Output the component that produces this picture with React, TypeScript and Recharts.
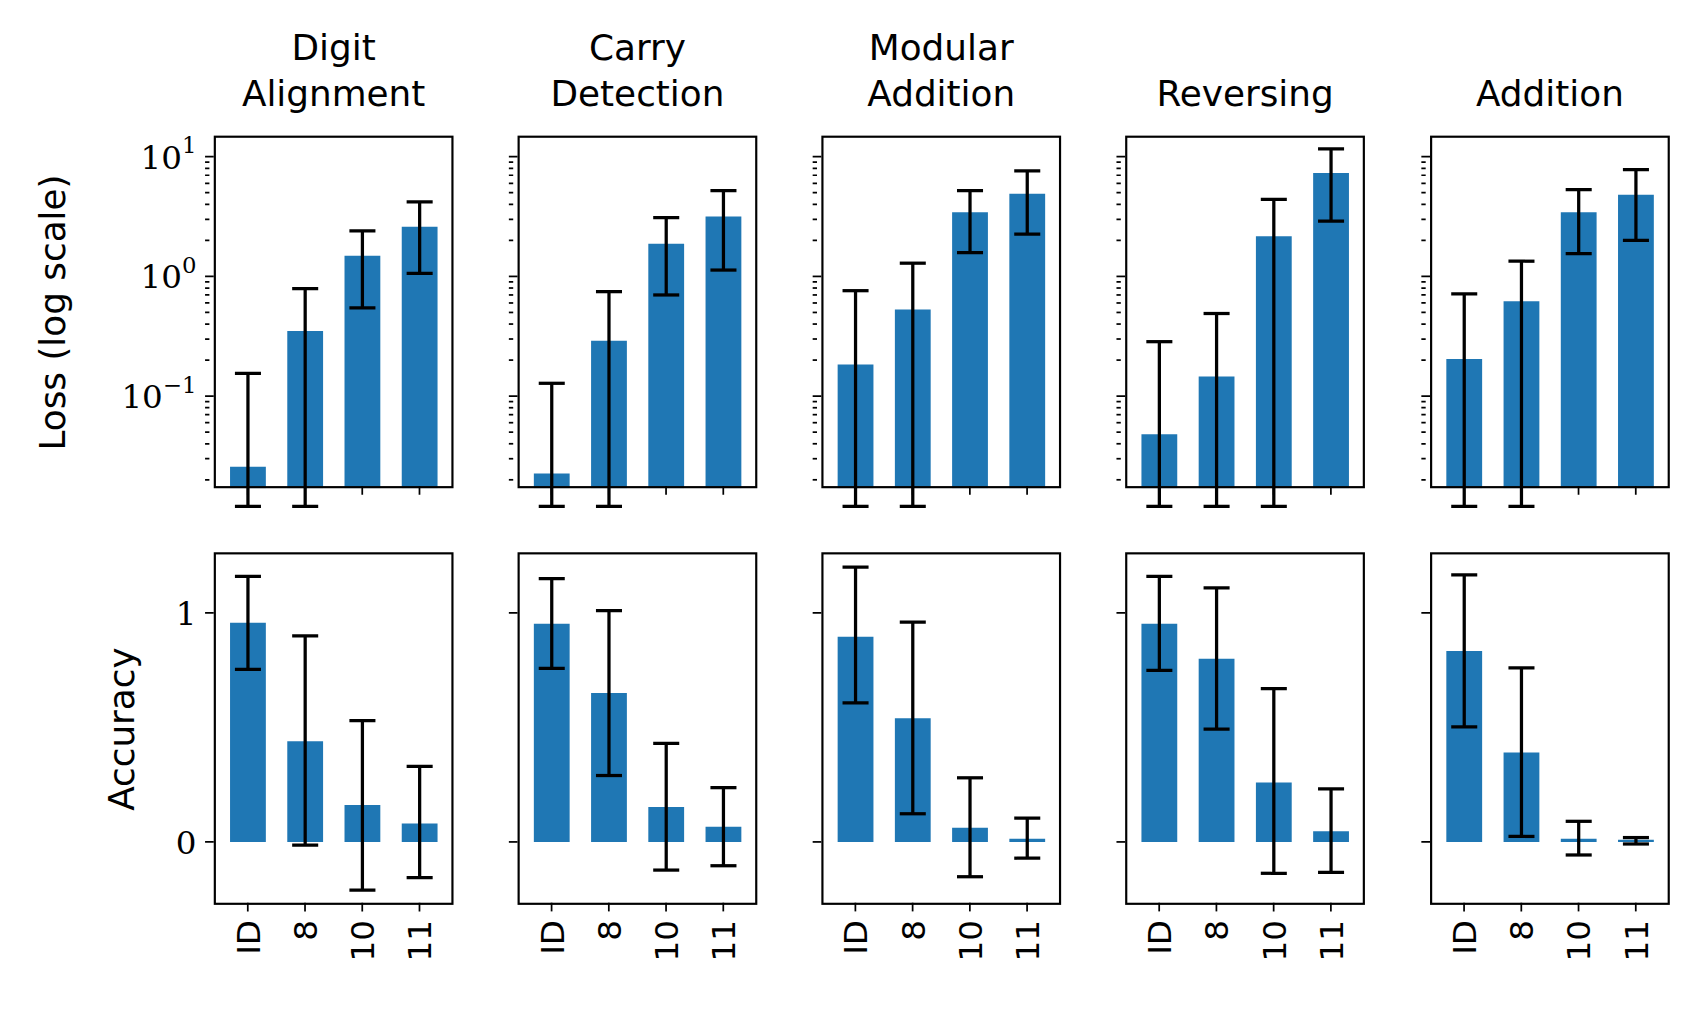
import React from 'react'
import { BarChart, Bar, XAxis, YAxis, ErrorBar } from 'recharts'

const categories = ['ID', '8', '10', '11']
const titles = [['Digit', 'Alignment'], ['Carry', 'Detection'], ['Modular', 'Addition'], ['Reversing'], ['Addition']]

// loss (log scale): value, lower, upper
const lossValues = [
  [0.0257, 0.35, 1.49, 2.6],
  [0.0226, 0.29, 1.87, 3.16],
  [0.184, 0.53, 3.43, 4.9],
  [0.048, 0.146, 2.17, 7.3],
  [0.204, 0.62, 3.43, 4.8],
]
const lossLow = [
  [0.012, 0.012, 0.545, 1.06],
  [0.012, 0.012, 0.7, 1.13],
  [0.012, 0.012, 1.58, 2.26],
  [0.012, 0.012, 0.012, 2.9],
  [0.012, 0.012, 1.55, 2.0],
]
const lossHigh = [
  [0.155, 0.79, 2.4, 4.2],
  [0.128, 0.746, 3.1, 5.2],
  [0.76, 1.29, 5.2, 7.6],
  [0.285, 0.49, 4.4, 11.6],
  [0.715, 1.34, 5.3, 7.8],
]
const accValues = [
  [0.957, 0.44, 0.161, 0.08],
  [0.953, 0.65, 0.152, 0.066],
  [0.896, 0.54, 0.062, 0.014],
  [0.953, 0.8, 0.26, 0.047],
  [0.834, 0.39, 0.014, 0.009],
]
const accLow = [
  [0.754, -0.014, -0.21, -0.156],
  [0.758, 0.29, -0.123, -0.104],
  [0.607, 0.123, -0.152, -0.071],
  [0.749, 0.493, -0.137, -0.133],
  [0.502, 0.024, -0.057, -0.009],
]
const accHigh = [
  [1.16, 0.9, 0.53, 0.33],
  [1.15, 1.01, 0.43, 0.237],
  [1.2, 0.96, 0.28, 0.104],
  [1.16, 1.11, 0.67, 0.232],
  [1.166, 0.76, 0.09, 0.019],
]
const logMajor = [0.1, 1, 10]
const logTicks = [
  0.02, 0.03, 0.04, 0.05, 0.06, 0.07, 0.08, 0.09, 0.1,
  0.2, 0.3, 0.4, 0.5, 0.6, 0.7, 0.8, 0.9, 1,
  2, 3, 4, 5, 6, 7, 8, 9, 10,
]
const accTicks = [0, 1]

const SCALE = 1.085
const panelLefts = [197, 477, 757, 1037, 1318]
const PW = 221
const PH = 325
const TOP1 = 125
const TOP2 = 509
const BLUE = '#1f77b4'
const SERIF = 'DejaVu Serif, serif'
const SANS = 'DejaVu Sans, sans-serif'

function build(vals: number[], lo: number[], hi: number[]) {
  return categories.map((c, i) => ({ name: c, v: vals[i], err: [vals[i] - lo[i], hi[i] - vals[i]] }))
}

const LogTick = (showLabel: boolean) => (p: any) => {
  const v = p.payload.value
  const major = logMajor.some((m) => Math.abs(m - v) < 1e-9)
  const len = major ? 8 : 4
  const exp = Math.round(Math.log10(v))
  return (
    <g>
      <line x1={p.x} x2={p.x + len} y1={p.y} y2={p.y} stroke="#000" strokeWidth={1.6} />
      {showLabel && major && (
        <text x={p.x - 8} y={p.y + 11} textAnchor="end" fontFamily={SERIF} fontSize={30} fill="#000">
          10<tspan dy={-14} fontSize={21}>{exp === 1 ? '1' : exp === 0 ? '0' : '−1'}</tspan>
        </text>
      )}
    </g>
  )
}

const AccTick = (showLabel: boolean) => (p: any) => (
  <g>
    <line x1={p.x} x2={p.x + 8} y1={p.y} y2={p.y} stroke="#000" strokeWidth={1.6} />
    {showLabel && (
      <text x={p.x - 8} y={p.y + 11} textAnchor="end" fontFamily={SERIF} fontSize={30} fill="#000">
        {p.payload.value}
      </text>
    )}
  </g>
)

const XTick = (showLabel: boolean) => (p: any) => (
  <g>
    <line x1={p.x} x2={p.x} y1={p.y - 10} y2={p.y - 2} stroke="#000" strokeWidth={1.6} />
    {showLabel && (
      <text
        transform={`translate(${p.x + 11},${p.y + 6}) rotate(-90)`}
        textAnchor="end"
        fontFamily={SANS}
        fontSize={30}
        fill="#000"
      >
        {p.payload.value}
      </text>
    )}
  </g>
)

function Panel(props: { col: number; row: number }) {
  const { col, row } = props
  const isLoss = row === 0
  const data = isLoss
    ? build(lossValues[col], lossLow[col], lossHigh[col])
    : build(accValues[col], accLow[col], accHigh[col])
  const left = panelLefts[col]
  const top = isLoss ? TOP1 : TOP2
  return (
    <div style={{ position: 'absolute', left: left - 110, top: top - 10 }}>
      <BarChart
        width={110 + PW + 10}
        height={10 + PH + 120}
        data={data}
        margin={{ top: 10, right: 10, left: 0, bottom: 0 }}
        barCategoryGap="19%"
      >
        <XAxis
          dataKey="name"
          height={120}
          axisLine={false}
          tickLine={false}
          interval={0}
          padding={{ left: 5, right: 5 }}
          tick={XTick(!isLoss)}
        />
        {isLoss ? (
          <YAxis
            type="number"
            scale="log"
            domain={[0.017, 15]}
            allowDataOverflow
            ticks={logTicks}
            interval={0}
            width={110}
            axisLine={false}
            tickLine={false}
            tick={LogTick(col === 0)}
          />
        ) : (
          <YAxis
            type="number"
            domain={[-0.275, 1.265]}
            allowDataOverflow
            ticks={accTicks}
            interval={0}
            width={110}
            axisLine={false}
            tickLine={false}
            tick={AccTick(col === 0)}
          />
        )}
        <Bar dataKey="v" fill={BLUE} isAnimationActive={false}>
          <ErrorBar dataKey="err" width={12} stroke="#000" strokeWidth={3} direction="y" />
        </Bar>
      </BarChart>
      <div
        style={{
          position: 'absolute',
          left: 110,
          top: 10,
          width: PW,
          height: PH,
          border: '2px solid #000',
          boxSizing: 'border-box',
          pointerEvents: 'none',
        }}
      />
    </div>
  )
}

export default function App() {
  return (
    <div style={{ position: 'absolute', left: 0, top: 0, width: 1701, height: 1011, background: '#fff', overflow: 'hidden' }}>
      <div style={{ position: 'absolute', left: 0, top: 0, width: 1570, height: 935, transform: `scale(${SCALE})`, transformOrigin: '0 0' }}>
        {titles.map((t, c) => (
          <div
            key={c}
            style={{
              position: 'absolute',
              left: panelLefts[c] - 40,
              width: PW + 80,
              top: t.length === 2 ? 22 : 65,
              textAlign: 'center',
              fontFamily: SANS,
              fontSize: 33,
              lineHeight: '43px',
            }}
          >
            {t.map((l) => (
              <div key={l}>{l}</div>
            ))}
          </div>
        ))}
        <div
          style={{
            position: 'absolute',
            left: 48,
            top: 288,
            transform: 'translate(-50%,-50%) rotate(-90deg)',
            fontFamily: SANS,
            fontSize: 33,
            whiteSpace: 'nowrap',
          }}
        >
          Loss (log scale)
        </div>
        <div
          style={{
            position: 'absolute',
            left: 112,
            top: 672,
            transform: 'translate(-50%,-50%) rotate(-90deg)',
            fontFamily: SANS,
            fontSize: 33,
            whiteSpace: 'nowrap',
          }}
        >
          Accuracy
        </div>
        {[0, 1].map((r) => [0, 1, 2, 3, 4].map((c) => <Panel key={`${r}-${c}`} row={r} col={c} />))}
      </div>
    </div>
  )
}
